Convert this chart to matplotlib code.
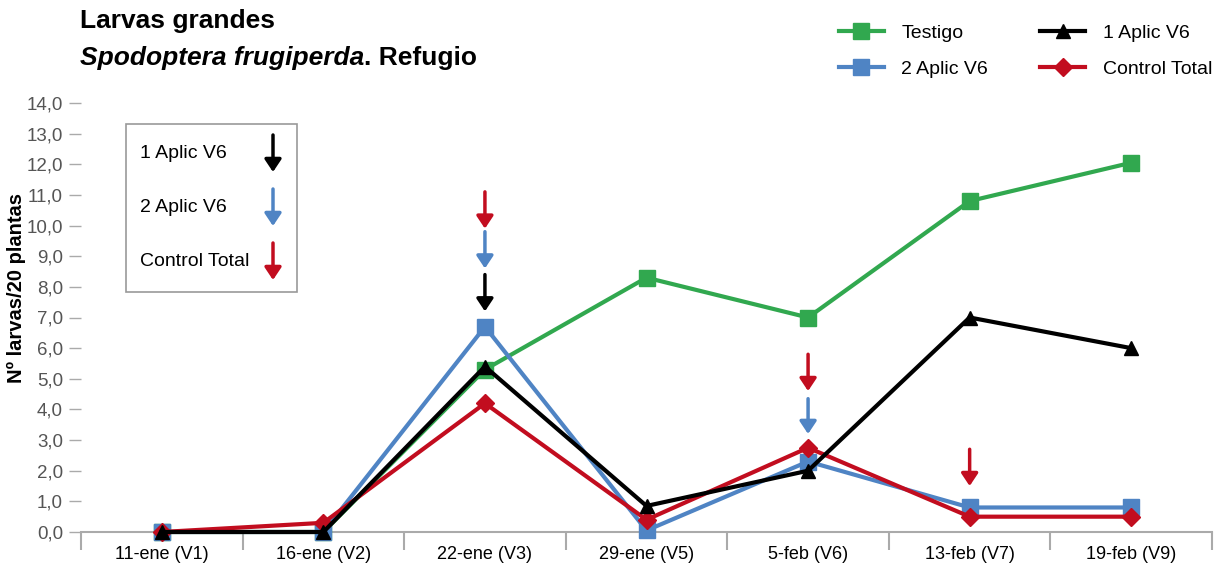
import matplotlib.pyplot as plt
import numpy as np

plt.rcParams['font.family'] = ['Liberation Sans', 'DejaVu Sans']

fechas = ['11-ene (V1)', '16-ene (V2)', '22-ene (V3)', '29-ene (V5)',
          '5-feb (V6)', '13-feb (V7)', '19-feb (V9)']
testigo = [0.0, 0.0, 5.3, 8.3, 7.0, 10.8, 12.05]
aplic2 = [0.0, 0.0, 6.7, 0.05, 2.3, 0.8, 0.8]
aplic1 = [0.0, 0.0, 5.4, 0.85, 2.0, 7.0, 6.0]
control = [0.0, 0.3, 4.2, 0.4, 2.75, 0.5, 0.5]

# aplicaciones marcadas con flechas: (posicion, inicio, punta)
flechas_rojo = [(2, 11.1, 9.9), (4, 5.8, 4.6), (5, 2.7, 1.5)]
flechas_azul = [(2, 9.8, 8.6), (4, 4.35, 3.2)]
flechas_negro = [(2, 8.4, 7.2)]

verde = '#31a84f'
azul = '#4f84c4'
rojo = '#c20d1f'
negro = '#000000'

estilo_flecha = '-|>,head_length=0.75,head_width=0.5'

fig = plt.figure(figsize=(12.26, 5.72), dpi=100)
ax = fig.add_axes([81/1226, 1-532/572, (1212-81)/1226, (532-103)/572])

x = np.arange(len(fechas))
ax.plot(x, testigo, color=verde, lw=3, marker='s', ms=11, label='Testigo', clip_on=False, zorder=3)
ax.plot(x, aplic2, color=azul, lw=3, marker='s', ms=11, label='2 Aplic V6', clip_on=False, zorder=4)
ax.plot(x, control, color=rojo, lw=3, marker='D', ms=9, label='Control Total', clip_on=False, zorder=5)
ax.plot(x, aplic1, color=negro, lw=3, marker='^', ms=10, label='1 Aplic V6', clip_on=False, zorder=6)

def flecha(ax, xx, y0, y1, c):
    ax.annotate('', xy=(xx, y1), xytext=(xx, y0),
                arrowprops=dict(arrowstyle=estilo_flecha, lw=2.5, color=c,
                                shrinkA=0, shrinkB=0))

for xx, y0, y1 in flechas_rojo:
    flecha(ax, xx, y0, y1, rojo)
for xx, y0, y1 in flechas_azul:
    flecha(ax, xx, y0, y1, azul)
for xx, y0, y1 in flechas_negro:
    flecha(ax, xx, y0, y1, negro)

ax.set_xlim(-0.5, len(fechas) - 0.5)
ax.set_ylim(0, 14)
yt = np.arange(0, 14.1, 1)
ax.set_yticks(yt)
ax.set_yticklabels([f'{v:.1f}'.replace('.', ',') for v in yt], fontsize=13.5, color='#555555')
ax.tick_params(axis='y', length=9, width=1, color='#aaaaaa', pad=4)

ax.set_xticks(x)
ax.set_xticklabels(fechas, fontsize=13)
ax.tick_params(axis='x', length=0, pad=10)
ax.set_xticks(np.arange(-0.5, len(fechas)), minor=True)
ax.tick_params(axis='x', which='minor', length=13, width=1.5, color='#aaaaaa')

for s in ['top', 'right', 'left']:
    ax.spines[s].set_visible(False)
ax.spines['bottom'].set_color('#aaaaaa')
ax.spines['bottom'].set_linewidth(1.5)

ax.set_ylabel('Nº larvas/20 plantas', fontsize=14.5, fontweight='bold')
ax.yaxis.set_label_coords(-0.0486, 0.569)

# titulo
fig.text(80/1226, 1-28/572, 'Larvas grandes', fontsize=19, fontweight='bold', va='baseline')
t1 = fig.text(80/1226, 1-65/572, 'Spodoptera frugiperda', fontsize=19, fontweight='bold',
              style='italic', va='baseline')
fig.add_artist(plt.Annotation('. Refugio', xy=(1, 0), xycoords=t1, va='bottom',
                              fontsize=19, fontweight='bold'))

# leyenda
h, l = ax.get_legend_handles_labels()
orden = [0, 1, 3, 2]
fig.legend([h[i] for i in orden], [l[i] for i in orden], ncol=2, frameon=False,
           loc='upper left', bbox_to_anchor=(839/1226, 1-24/572), fontsize=14,
           borderpad=0, borderaxespad=0, handlelength=2.3, handletextpad=0.9,
           columnspacing=2.7, labelspacing=0.95)

# cuadro de referencias de flechas
caja = plt.Rectangle((126/1226, 1-292/572), (297-126)/1226, (292-124)/572,
                     transform=fig.transFigure, fill=False, edgecolor='#999999', lw=1.2)
fig.add_artist(caja)
for yy, txt, c in [(153, '1 Aplic V6', negro), (207, '2 Aplic V6', azul), (261, 'Control Total', rojo)]:
    fig.text(140/1226, 1-yy/572, txt, fontsize=14, va='center')
    fig.add_artist(plt.Annotation('', xy=(273/1226, 1-(yy+19)/572), xytext=(273/1226, 1-(yy-18)/572),
                                  xycoords='figure fraction',
                                  arrowprops=dict(arrowstyle=estilo_flecha, lw=2.5, color=c,
                                                  shrinkA=0, shrinkB=0)))

fig.savefig('out.png', dpi=100)
